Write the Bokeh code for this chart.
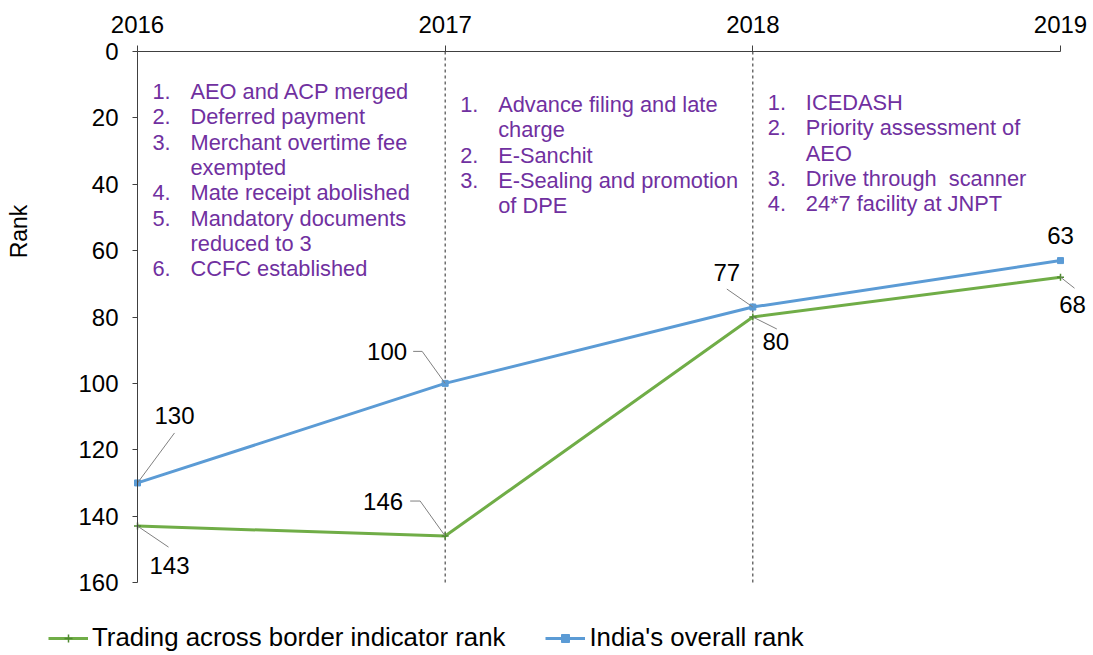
import math
from bokeh.plotting import figure
from bokeh.models import Range1d, FixedTicker, Label, Legend, LegendItem
from bokeh.embed import file_html
from bokeh.resources import INLINE

# ---------------- data ----------------
years = [2016, 2017, 2018, 2019]
trading_rank = [143, 146, 80, 68]
overall_rank = [130, 100, 77, 63]
y_ticks = [0, 20, 40, 60, 80, 100, 120, 140, 160]
divider_years = [2017, 2018]

reform_years = [2016, 2017, 2018]
reforms_2016 = [
    ("1.", ["AEO and ACP merged"]),
    ("2.", ["Deferred payment"]),
    ("3.", ["Merchant overtime fee", "exempted"]),
    ("4.", ["Mate receipt abolished"]),
    ("5.", ["Mandatory documents", "reduced to 3"]),
    ("6.", ["CCFC established"]),
]
reforms_2017 = [
    ("1.", ["Advance filing and late", "charge"]),
    ("2.", ["E-Sanchit"]),
    ("3.", ["E-Sealing and promotion", "of DPE"]),
]
reforms_2018 = [
    ("1.", ["ICEDASH"]),
    ("2.", ["Priority assessment of", "AEO"]),
    ("3.", ["Drive through\u00a0 scanner"]),
    ("4.", ["24*7 facility at JNPT"]),
]
reform_lists = [reforms_2016, reforms_2017, reforms_2018]

series_names = ["Trading across border indicator rank", "India's overall rank"]

# ---------------- styling ----------------
W, H = 1093, 655
PAD_LEFT, PAD_RIGHT, PAD_TOP, PAD_BOTTOM = 137, 33, 51, 73   # px around the plotting area
FONT = "Liberation Sans"
GREEN = "#70AD47"
BLUE = "#5B9BD5"
PURPLE = "#7030A0"
AXIS_COL = "#404040"
LEADER_COL = "#808080"

area_w = W - PAD_LEFT - PAD_RIGHT
area_h = H - PAD_TOP - PAD_BOTTOM
px_year = area_w / (years[-1] - years[0])
px_rank = area_h / (y_ticks[-1] - y_ticks[0])

x_range = Range1d(years[0] - PAD_LEFT / px_year, years[-1] + PAD_RIGHT / px_year)
y_range = Range1d(y_ticks[-1] + PAD_BOTTOM / px_rank, y_ticks[0] - PAD_TOP / px_rank)

p = figure(width=W, height=H, output_backend="svg", toolbar_location=None,
           x_axis_location="above", x_range=x_range, y_range=y_range,
           min_border=0, min_border_left=0, min_border_right=0,
           min_border_top=0, min_border_bottom=0)
p.outline_line_color = None
p.xgrid.visible = False
p.ygrid.visible = False
p.background_fill_color = "white"
p.border_fill_color = "white"

xa = p.xaxis[0]
xa.fixed_location = y_ticks[0]
xa.bounds = (years[0], years[-1])
xa.ticker = FixedTicker(ticks=years)
xa.major_label_overrides = {y: str(y) for y in years}
xa.minor_tick_line_color = None
xa.major_tick_in = 0
xa.major_tick_out = 6
xa.axis_line_color = AXIS_COL
xa.major_tick_line_color = AXIS_COL
xa.major_label_text_font = FONT
xa.major_label_text_font_size = "24px"
xa.major_label_text_color = "black"
xa.major_label_standoff = 13

ya = p.yaxis[0]
ya.fixed_location = years[0]
ya.bounds = (y_ticks[0], y_ticks[-1])
ya.ticker = FixedTicker(ticks=y_ticks)
ya.minor_tick_line_color = None
ya.major_tick_in = 0
ya.major_tick_out = 5
ya.axis_line_color = AXIS_COL
ya.major_tick_line_color = AXIS_COL
ya.major_label_text_font = FONT
ya.major_label_text_font_size = "24px"
ya.major_label_text_color = "black"
ya.major_label_standoff = 14

# dashed dividers
p.segment(x0=divider_years, y0=[y_ticks[0]] * len(divider_years),
          x1=divider_years, y1=[y_ticks[-1]] * len(divider_years),
          line_color="#262626", line_width=1, line_dash="3 3")

# series
g_line = p.line(years, trading_rank, line_color=GREEN, line_width=3)
g_mark = p.scatter(years, trading_rank, marker="cross", size=7, line_color="#4F8A30", line_width=1.5)
b_line = p.line(years, overall_rank, line_color=BLUE, line_width=3)
b_mark = p.scatter(years, overall_rank, marker="square", size=6, fill_color=BLUE, line_color=BLUE)

# data labels with leader lines (offsets in screen px: dx right, dy down)
label_style = [
    # (series, index, label dx, label dy, align, leader points)
    (overall_rank, 0, 37, -67, "center", [(37, -50)]),
    (trading_rank, 0, 32, 39, "center", [(31, 21)]),
    (overall_rank, 1, -38, -32, "right", [(-32, -32), (-23, -32)]),
    (trading_rank, 1, -42, -35, "right", [(-35, -35), (-25, -35)]),
    (overall_rank, 2, -26, -35, "center", [(-26, -18)]),
    (trading_rank, 2, 23, 24, "center", [(24, 12)]),
    (overall_rank, 3, 0, -25, "center", []),
    (trading_rank, 3, 12, 27, "center", [(14, 11)]),
]
for series, i, dx, dy, align, leader in label_style:
    xv, yv = years[i], series[i]
    p.add_layout(Label(x=xv, y=yv, x_offset=dx, y_offset=-dy, text=str(yv),
                       text_font=FONT, text_font_size="24px", text_color="black",
                       text_align=align, text_baseline="middle"))
    if leader:
        xs = [xv + ldx / px_year for ldx, ldy in leader] + [xv]
        ys = [yv + ldy / px_rank for ldx, ldy in leader] + [yv]
        p.line(xs, ys, line_color=LEADER_COL, line_width=1)

# reform notes
first_line_dy = [40, 53, 51]
num_dx, text_dx = 15, 53
line_h = 25.3
for yr, items, fdy in zip(reform_years, reform_lists, first_line_dy):
    k = 0
    for num, lines in items:
        p.add_layout(Label(x=yr, y=y_ticks[0], x_offset=num_dx, y_offset=-(fdy + k * line_h),
                           text=num, text_font=FONT, text_font_size="21.8px", text_color=PURPLE,
                           text_align="left", text_baseline="middle"))
        for ln in lines:
            p.add_layout(Label(x=yr, y=y_ticks[0], x_offset=text_dx, y_offset=-(fdy + k * line_h),
                               text=ln, text_font=FONT, text_font_size="21.8px", text_color=PURPLE,
                               text_align="left", text_baseline="middle"))
            k += 1

# axis title
p.add_layout(Label(x=years[0], y=y_ticks[0], x_offset=-119, y_offset=-180, text="Rank",
                   angle=math.pi / 2, text_font=FONT, text_font_size="23px", text_color="black",
                   text_align="center", text_baseline="middle"))

# legend
legend = Legend(items=[LegendItem(label=series_names[0], renderers=[g_line, g_mark]),
                       LegendItem(label=series_names[1], renderers=[b_line, b_mark])],
                orientation="horizontal", location=(48, 3),
                label_text_font=FONT, label_text_font_size="25.8px", label_text_color="black",
                glyph_width=40, glyph_height=20, label_standoff=4, spacing=40,
                padding=0, margin=0, border_line_color=None, background_fill_alpha=0)
p.add_layout(legend, "center")

open("out.html", "w").write(file_html(p, INLINE))
